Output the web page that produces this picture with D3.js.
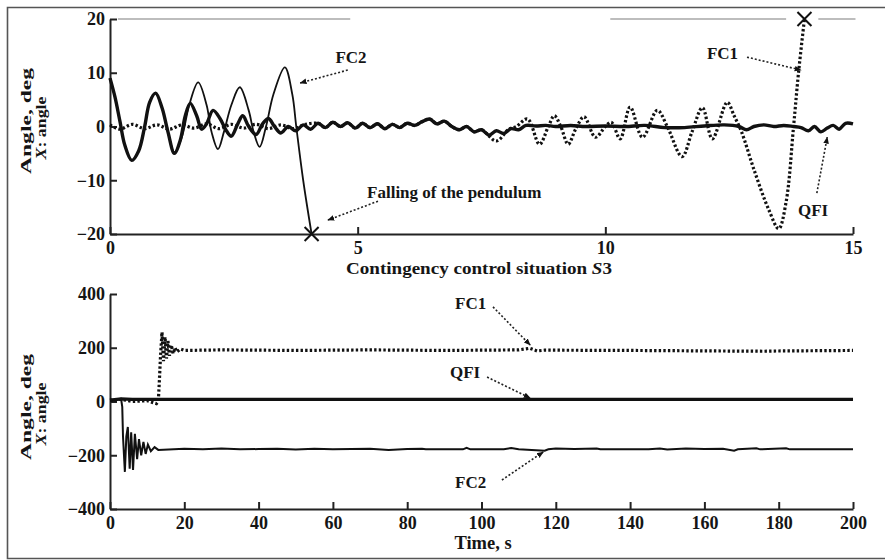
<!DOCTYPE html>
<html>
<head>
<meta charset="utf-8">
<script src="https://cdn.jsdelivr.net/npm/d3@7"></script>
<style>
  html, body { margin: 0; padding: 0; background: #fff; }
  svg text { font-family: "Liberation Serif", "DejaVu Serif", serif; font-weight: bold; fill: #151515; }
</style>
</head>
<body>
<svg id="chart" width="885" height="560"></svg>
<script>
// === DATA: upper panel, contingency situation S3 (t in s, angle in deg) ===
const topXTicks = [0, 5, 10, 15];
const topYTicks = [-20, -10, 0, 10, 20];

const topQFI = [
  [0, 9], [0.1, 5.5], [0.2, 1], [0.3, -3.5], [0.44, -6.3], [0.58, -4.5], [0.7, 0], [0.8, 4.5],
  [0.92, 6.2], [1.05, 3.5], [1.17, -1], [1.3, -5], [1.42, -2.5], [1.52, 2], [1.62, 4.3], [1.75, 2],
  [1.85, -0.5], [1.95, 0.5], [2.08, 3], [2.22, 1.5], [2.35, -0.8], [2.45, -1.8], [2.58, 0.5],
  [2.68, 2], [2.8, 0], [2.95, -1.5], [3.08, 0.5], [3.2, 1.5], [3.32, 0], [3.45, -1.2], [3.6, 0],
  [3.75, -0.8], [3.9, 0.3], [4.05, -0.5], [4.2, 0.6], [4.35, -0.2], [4.5, 0.8], [4.65, 0],
  [4.8, 0.7], [4.95, -0.3], [5.1, 0.6], [5.25, -0.2], [5.4, 0.5], [5.55, -0.4], [5.7, 0.4],
  [5.85, -0.2], [6.0, 0.6], [6.15, 0.2], [6.3, 0.9], [6.45, 1.4], [6.6, 0.5], [6.75, 1], [6.9, 0],
  [7.05, -0.6], [7.2, 0], [7.35, -1], [7.5, -0.6], [7.65, -1.6], [7.8, -0.8], [7.95, -1.3],
  [8.1, -0.4], [8.25, -0.6], [8.4, 0.2], [8.6, 0.1], [8.8, 0.2], [9.0, 0], [9.3, 0.2], [9.6, 0],
  [10, 0.1], [10.4, 0], [10.8, 0.2], [11.2, -0.2], [11.6, -0.2], [12, 0.1], [12.4, 0.3], [12.7, 0],
  [12.85, -0.6], [13, 0], [13.2, 0.3], [13.4, 0], [13.6, 0.2], [13.8, 0], [13.95, -0.2],
  [14.1, -0.8], [14.22, 0], [14.35, -1], [14.48, -0.3], [14.6, 0.2], [14.72, -0.5], [14.85, 0.6],
  [15, 0.5]
];

const topFC2 = [
  [0, 9], [0.1, 5.5], [0.2, 1], [0.3, -3.5], [0.44, -6.3], [0.58, -4.5], [0.7, 0], [0.8, 4.5],
  [0.92, 6.2], [1.05, 3.5], [1.17, -1], [1.3, -4.8], [1.45, -2], [1.6, 4], [1.78, 8.2], [1.95, 4],
  [2.05, -1], [2.18, -4.2], [2.3, -1], [2.45, 4], [2.62, 7.3], [2.8, 3], [2.9, -1], [3.02, -3.8],
  [3.15, 0], [3.3, 6], [3.53, 11], [3.68, 6], [3.76, 0], [3.9, -10], [4.07, -20]
];

const topFC1 = [
  [0, 0.3], [0.2, -0.5], [0.45, 0.4], [0.7, -0.4], [0.95, 0.3], [1.2, -0.5], [1.45, 0.3],
  [1.7, -0.3], [1.95, 0.5], [2.2, -0.4], [2.45, 0.4], [2.7, -0.3], [2.95, 0.4], [3.2, -0.4],
  [3.45, 0.3], [3.7, -0.4], [3.95, 0.4], [4.2, 0.6], [4.35, -0.2], [4.5, 0.8], [4.65, 0],
  [4.8, 0.7], [4.95, -0.3], [5.1, 0.6], [5.25, -0.2], [5.4, 0.5], [5.55, -0.4], [5.7, 0.4],
  [5.85, -0.2], [6.0, 0.6], [6.15, 0.2], [6.3, 0.9], [6.45, 1.4], [6.6, 0.5], [6.75, 1], [6.9, 0],
  [7.05, -0.6], [7.2, 0], [7.35, -1], [7.5, -0.6], [7.8, -2.7], [8.05, -0.5], [8.2, 0],
  [8.43, 1.4], [8.67, -3.3], [8.85, 0], [8.97, 2], [9.1, 0], [9.25, -3.3], [9.4, -0.5],
  [9.57, 1.8], [9.8, -2], [10.0, 0], [10.12, 0.8], [10.3, -2.3], [10.5, 3.6], [10.75, -2],
  [11.05, 3], [11.25, 0], [11.55, -5.6], [11.75, -1], [11.96, 3.5], [12.16, -2.3], [12.46, 4.5],
  [12.6, 2], [12.75, -1], [13.0, -8], [13.3, -15.5], [13.5, -19], [13.65, -14], [13.8, 0],
  [13.9, 10], [14.02, 20]
];

const topFallMarks = [[4.07, -20], [14.02, 20]];
const topLimitSegments = [[0.16, 4.85], [10.1, 13.65], [14.3, 15.05]]; // grå linje vid 20 deg
const topLimitValue = 20;

// etiketter och pilar i datakoordinater: [text, tx, ty, fromX, fromY, toX, toY]
const topNotes = [
  ["FC2", 4.55, 11.8, 4.8, 10.5, 3.84, 8.1],
  ["Falling of the pendulum", 5.19, -13.3, 5.41, -13.9, 4.4, -17.4],
  ["FC1", 12.05, 12.6, 12.86, 12.9, 13.95, 10.5],
  ["QFI", 13.89, -16.6, 14.27, -12.4, 14.48, -2.0]
];

// === DATA: lower panel, time 0..200 s ===
const botXTicks = [0, 20, 40, 60, 80, 100, 120, 140, 160, 180, 200];
const botYTicks = [-400, -200, 0, 200, 400];

const botQFI = [[0, 5], [3, 10], [6, 8], [200, 8]];

const botFC1 = [
  [0, 5], [3, 8], [6, 0], [10, 3], [12.5, -8], [13, 0], [13.3, 80], [13.6, 170], [14, 258],
  [14.4, 150], [14.8, 240], [15.2, 160], [15.6, 225], [16, 170], [16.5, 210], [17, 178],
  [17.5, 200], [18, 185], [19, 195], [20, 190], [30, 192], [50, 190], [70, 192], [90, 190],
  [110, 192], [113, 198], [115, 188], [117, 191], [140, 190], [176, 187], [180, 188], [200, 190]
];

const botFC2 = [
  [0, 5], [3, 8], [3.3, -20], [3.5, -130], [4.0, -262], [4.4, -130], [4.8, -95], [5.3, -250],
  [5.7, -115], [6.2, -255], [6.7, -120], [7.3, -215], [7.8, -140], [8.4, -200], [9, -150],
  [9.6, -195], [10.2, -160], [11, -185], [12, -170], [13, -180], [20, -176], [25, -178],
  [30, -175], [35, -178], [40, -177], [45, -176], [50, -179], [55, -176], [60, -178], [65, -177],
  [70, -176], [75, -180], [80, -177], [84, -176], [85, -178], [95, -178], [96, -172], [97, -178],
  [106, -178], [108, -173], [110, -178], [117, -183], [118, -178], [120, -175], [125, -177],
  [131, -175], [132, -178], [145, -178], [148, -175], [150, -179], [155, -175], [160, -177],
  [165, -176], [168, -183], [169, -178], [174, -174], [175, -178], [182, -174], [183, -178],
  [200, -178]
];

const botNotes = [
  ["FC1", 92.9, 344, 103.1, 352, 113.1, 210],
  ["QFI", 91.5, 87, 101.5, 91, 113.1, 13],
  ["FC2", 92.9, -322, 105.5, -292, 116.6, -188]
];


// === RITA ===
const svg = d3.select("#chart");

// pilspets för de prickade pilarna
svg.append("defs").append("marker")
  .attr("id", "head")
  .attr("viewBox", "0 0 10 10")
  .attr("refX", 9).attr("refY", 5)
  .attr("markerWidth", 7).attr("markerHeight", 7)
  .attr("markerUnits", "userSpaceOnUse")
  .attr("orient", "auto")
  .append("path")
  .attr("d", "M0,1 L10,5 L0,9 Z")
  .attr("fill", "#111");

// ram runt bilden (vänster, topp, botten)
svg.append("path")
  .attr("d", "M885,7.5 H7.5 V558.5 H885")
  .attr("fill", "none")
  .attr("stroke", "#555")
  .attr("stroke-width", 1.6);

function drawAxes(g, x, y, xTicks, yTicks) {
  const xAxis = g.append("g")
    .attr("transform", `translate(0, ${y.range()[0]})`)
    .call(d3.axisBottom(x).tickValues(xTicks).tickSizeInner(-7).tickSizeOuter(0).tickPadding(7));
  const yAxis = g.append("g")
    .attr("transform", `translate(${x.range()[0]}, 0)`)
    .call(d3.axisLeft(y).tickValues(yTicks).tickSizeInner(-7).tickSizeOuter(0).tickPadding(5));

  [xAxis, yAxis].forEach(a => {
    a.select(".domain").attr("stroke", "#222").attr("stroke-width", 2);
    a.selectAll(".tick line").attr("stroke", "#222").attr("stroke-width", 2);
    a.selectAll(".tick text").style("font-size", "18px").attr("fill", "#151515");
    a.attr("font-family", null);
  });
}

// y-etikett i två rader, sträckt i läsriktningen som i originalet
function drawYLabel(g, cy) {
  g.append("text")
    .attr("transform", `translate(31, ${cy}) rotate(-90)`)
    .attr("text-anchor", "middle")
    .attr("textLength", 106)
    .attr("lengthAdjust", "spacingAndGlyphs")
    .style("font-size", "15px")
    .text("Angle, deg");
  const l2 = g.append("text")
    .attr("transform", `translate(46, ${cy + 7}) rotate(-90)`)
    .attr("text-anchor", "middle")
    .attr("textLength", 63)
    .attr("lengthAdjust", "spacingAndGlyphs")
    .style("font-size", "15px");
  l2.append("tspan").style("font-style", "italic").text("X");
  l2.append("tspan").text(": angle");
}

function drawNotes(g, x, y, notes) {
  notes.forEach(([label, tx, ty, fx, fy, ax, ay]) => {
    g.append("text")
      .attr("x", x(tx)).attr("y", y(ty))
      .style("font-size", "17px")
      .text(label);
    g.append("line")
      .attr("x1", x(fx)).attr("y1", y(fy))
      .attr("x2", x(ax)).attr("y2", y(ay))
      .attr("stroke", "#222")
      .attr("stroke-width", 1.6)
      .attr("stroke-dasharray", "2,2")
      .attr("marker-end", "url(#head)");
  });
}

// ---------- Övre panelen ----------
const topX = d3.scaleLinear().domain([0, 15]).range([110, 853]);
const topY = d3.scaleLinear().domain([-20, 20]).range([234, 19]);
const topPanel = svg.append("g");

topPanel.selectAll(".limit")
  .data(topLimitSegments)
  .enter()
  .append("line")
  .attr("class", "limit")
  .attr("x1", d => topX(d[0])).attr("x2", d => topX(d[1]))
  .attr("y1", topY(topLimitValue)).attr("y2", topY(topLimitValue))
  .attr("stroke", "#bdbdbd")
  .attr("stroke-width", 2.2);

drawAxes(topPanel, topX, topY, topXTicks, topYTicks);

const topLine = d3.line()
  .x(d => topX(d[0]))
  .y(d => topY(d[1]))
  .curve(d3.curveCatmullRom.alpha(0.5));

topPanel.append("path").datum(topFC2)
  .attr("d", topLine).attr("fill", "none")
  .attr("stroke", "#111").attr("stroke-width", 1.8);

topPanel.append("path").datum(topFC1)
  .attr("d", topLine).attr("fill", "none")
  .attr("stroke", "#111").attr("stroke-width", 3.2)
  .attr("stroke-dasharray", "2.4,2.2");

topPanel.append("path").datum(topQFI)
  .attr("d", topLine).attr("fill", "none")
  .attr("stroke", "#111").attr("stroke-width", 3.4)
  .attr("stroke-linejoin", "round");

// kryss där pendeln faller
topPanel.selectAll(".fall")
  .data(topFallMarks)
  .enter()
  .append("path")
  .attr("class", "fall")
  .attr("d", d => {
    const cx = topX(d[0]), cy = topY(d[1]);
    return `M${cx - 7},${cy - 7} L${cx + 7},${cy + 7} M${cx - 7},${cy + 7} L${cx + 7},${cy - 7}`;
  })
  .attr("stroke", "#111")
  .attr("stroke-width", 2);

drawNotes(topPanel, topX, topY, topNotes);
drawYLabel(topPanel, 121);

const topTitle = topPanel.append("text")
  .attr("x", 479).attr("y", 274)
  .attr("text-anchor", "middle")
  .attr("textLength", 266)
  .attr("lengthAdjust", "spacingAndGlyphs")
  .style("font-size", "17px");
topTitle.append("tspan").text("Contingency control situation ");
topTitle.append("tspan").style("font-style", "italic").text("S");
topTitle.append("tspan").text("3");

// ---------- Nedre panelen ----------
const botX = d3.scaleLinear().domain([0, 200]).range([110, 853]);
const botY = d3.scaleLinear().domain([-400, 400]).range([509, 294]);
const botPanel = svg.append("g");

drawAxes(botPanel, botX, botY, botXTicks, botYTicks);

const botLine = d3.line()
  .x(d => botX(d[0]))
  .y(d => botY(d[1]));

botPanel.append("path").datum(botFC2)
  .attr("d", botLine).attr("fill", "none")
  .attr("stroke", "#111").attr("stroke-width", 2);

botPanel.append("path").datum(botFC1)
  .attr("d", botLine).attr("fill", "none")
  .attr("stroke", "#111").attr("stroke-width", 3.2)
  .attr("stroke-dasharray", "2.4,2.2");

botPanel.append("path").datum(botQFI)
  .attr("d", botLine).attr("fill", "none")
  .attr("stroke", "#111").attr("stroke-width", 3.2);

drawNotes(botPanel, botX, botY, botNotes);
drawYLabel(botPanel, 407);

botPanel.append("text")
  .attr("x", 483).attr("y", 549)
  .attr("text-anchor", "middle")
  .style("font-size", "18.5px")
  .text("Time, s");
</script>
</body>
</html>
